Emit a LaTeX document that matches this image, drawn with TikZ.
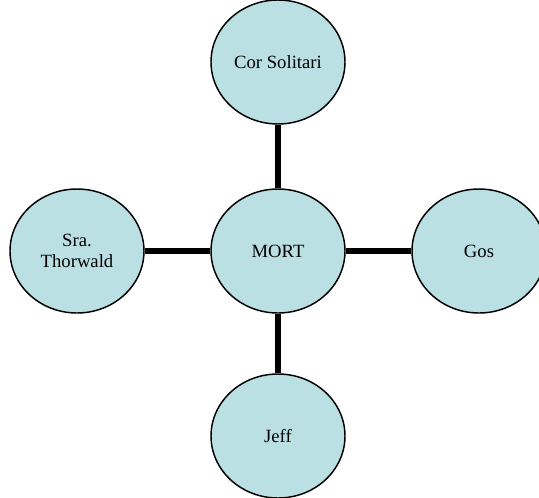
\documentclass[tikz,border=0pt]{standalone}
\usepackage{fontspec}
\setmainfont{Liberation Serif}
\usetikzlibrary{shapes.geometric}

\definecolor{bubblefill}{RGB}{187,224,227}

\tikzset{
  bubble/.style={ellipse,draw=black,line width=1.1pt,fill=bubblefill,
    minimum width=100.5pt,minimum height=93pt,inner sep=0pt,
    align=center,font=\fontsize{14}{16}\selectfont},
  link/.style={line width=4.5pt}
}

\begin{document}
\begin{tikzpicture}[x=0.75pt,y=-0.75pt]
  \useasboundingbox (0,0) rectangle (539,497);
  \node[bubble] at (278,251) (mort) {MORT};
  \node[bubble] at (278,62) (cor) {Cor Solitari};
  \node[bubble] at (77,251) (sra) {Sra.\\Thorwald};
  \node[bubble] at (479,251) (gos) {Gos};
  \node[bubble] at (278,436) (jeff) {Jeff};
  \draw[link] (mort) -- (cor);
  \draw[link] (mort) -- (sra);
  \draw[link] (mort) -- (gos);
  \draw[link] (mort) -- (jeff);
\end{tikzpicture}
\end{document}
